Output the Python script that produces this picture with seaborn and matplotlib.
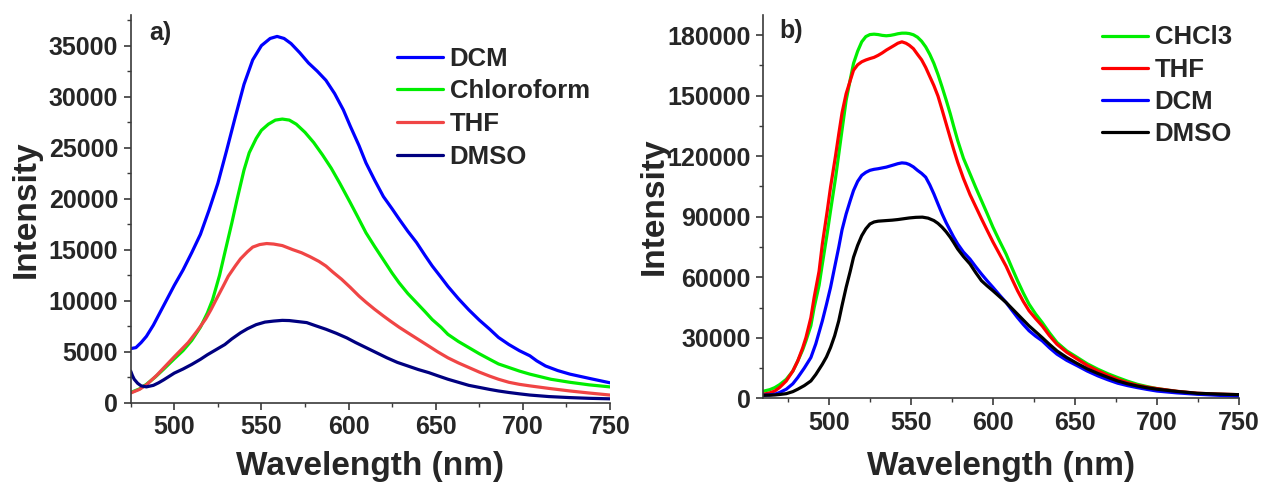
import matplotlib
matplotlib.use("Agg")
import numpy as np
import pandas as pd
import matplotlib.pyplot as plt
import seaborn as sns
from matplotlib.ticker import MultipleLocator
from matplotlib.lines import Line2D

# ---------------- Panel a) data ----------------
a_dcm_wl = [475, 478, 481, 484, 488, 492, 496, 500, 505, 510, 515, 520, 525, 530, 535, 540, 545, 550,
            555, 559, 563, 567, 572, 577, 582, 587, 592, 597, 601, 606, 610, 615, 620, 625, 629, 634,
            639, 644, 648, 653, 657, 663, 669, 675, 681, 686, 692, 698, 704, 708, 713, 720, 727, 739, 750]
a_dcm_i = [5300, 5400, 5900, 6500, 7600, 8900, 10200, 11500, 13000, 14700, 16500, 18900, 21500, 24700,
           28000, 31200, 33600, 35000, 35700, 35900, 35700, 35200, 34300, 33300, 32500, 31600, 30300,
           28700, 27100, 25200, 23500, 21800, 20200, 19000, 18000, 16800, 15700, 14400, 13400, 12300,
           11400, 10200, 9100, 8100, 7200, 6400, 5700, 5100, 4600, 4100, 3600, 3150, 2800, 2350, 1950]

a_chl_wl = [475, 480, 484, 489, 494, 500, 505, 510, 515, 519, 522, 526, 529, 533, 536, 540, 543, 547,
            550, 554, 558, 562, 566, 570, 575, 580, 585, 590, 595, 601, 605, 610, 615, 620, 625, 629,
            634, 639, 644, 648, 653, 657, 663, 669, 675, 681, 686, 692, 698, 704, 710, 716, 727, 738, 750]
a_chl_i = [1000, 1350, 1800, 2500, 3300, 4300, 5100, 6100, 7400, 8800, 10100, 12500, 14700, 17600,
           19900, 22800, 24500, 25900, 26700, 27300, 27700, 27800, 27700, 27300, 26500, 25500, 24300,
           23000, 21500, 19600, 18300, 16650, 15300, 14000, 12700, 11750, 10700, 9800, 8900, 8150,
           7400, 6700, 6000, 5400, 4800, 4250, 3800, 3450, 3100, 2800, 2550, 2300, 2000, 1750, 1550]

a_thf_wl = [475, 480, 484, 490, 495, 500, 504, 508, 513, 518, 521, 524, 528, 531, 535, 538, 542, 545,
            549, 553, 557, 562, 568, 573, 578, 583, 587, 591, 596, 601, 606, 610, 615, 620, 624, 629,
            634, 640, 646, 651, 657, 663, 669, 675, 681, 686, 692, 698, 704, 715, 727, 738, 750]
a_thf_i = [950, 1300, 1750, 2700, 3600, 4500, 5200, 5900, 7000, 8200, 9100, 10100, 11400, 12400, 13400,
           14100, 14800, 15250, 15500, 15600, 15550, 15400, 15000, 14700, 14300, 13850, 13400, 12800,
           12100, 11300, 10450, 9850, 9150, 8500, 8000, 7400, 6850, 6200, 5550, 5000, 4400, 3900, 3450,
           3000, 2600, 2300, 2000, 1800, 1650, 1400, 1150, 950, 750]

a_dmso_wl = [475, 476, 477, 479, 481, 484, 488, 491, 494, 500, 505, 510, 515, 519, 524, 529, 533, 538,
             542, 547, 552, 557, 562, 566, 571, 576, 581, 587, 593, 599, 604, 610, 616, 622, 628, 634,
             640, 646, 651, 657, 663, 669, 675, 681, 686, 692, 698, 704, 715, 727, 738, 750]
a_dmso_i = [3100, 2650, 2300, 1900, 1650, 1550, 1700, 1950, 2250, 2900, 3300, 3750, 4250, 4700, 5200,
            5700, 6250, 6850, 7250, 7650, 7900, 8000, 8070, 8050, 7950, 7850, 7550, 7200, 6800, 6350,
            5900, 5400, 4900, 4400, 3950, 3600, 3250, 2950, 2650, 2300, 2000, 1700, 1500, 1300, 1150,
            1000, 870, 750, 600, 500, 430, 380]

a_labels = ["DCM", "Chloroform", "THF", "DMSO"]
a_colors = ["#0000FF", "#00EE00", "#F04545", "#000080"]

# ---------------- Panel b) data ----------------
b_chcl3_wl = [460, 464, 467, 470, 474, 478, 481, 484, 486, 489, 491, 494, 496, 499, 501, 504, 506, 508,
              510.5, 513, 515, 517.5, 520, 522.5, 525, 527.5, 530, 532.5, 535, 537.5, 540, 542, 544.5,
              547, 549, 551.5, 554, 556.5, 559, 561.5, 564, 566.5, 569, 571.5, 574, 576, 578.5, 582, 586,
              589.5, 593, 596.5, 600, 604, 608, 611.5, 615, 618.5, 622, 626, 630, 634.5, 639, 645, 651.5,
              657.5, 664, 670, 676, 682, 688, 694, 700, 712, 724.5, 737, 750]
b_chcl3_i = [3500, 4300, 5300, 6800, 9400, 13500, 18500, 24000, 28500, 36000, 45000, 56000, 66600,
             82000, 93000, 109000, 121000, 133000, 147700, 158000, 166000, 172000, 176700, 179300, 180300,
             180500, 180300, 179900, 179700, 179900, 180300, 180700, 181000, 181000, 180800, 180200,
             179000, 177000, 174200, 170500, 166000, 160500, 154300, 147800, 141000, 135000, 127800,
             119000, 111300, 104500, 98000, 91500, 84800, 78000, 71500, 64800, 58300, 52200, 46700, 41800,
             37600, 32400, 27700, 23500, 20200, 17100, 14400, 12200, 10300, 8500, 6950, 5800, 4800, 3400,
             2300, 1950, 1650]

b_thf_wl = [460, 464, 467, 470, 474, 478, 481, 484, 486, 489, 491, 494, 496, 499, 501, 504, 506, 508,
            510.5, 513, 515, 517.5, 520, 522.5, 525, 527.5, 530, 532.5, 535, 537.5, 540, 542, 544.5, 547,
            549, 551.5, 554, 556.5, 559, 561.5, 564, 566.5, 569, 571.5, 574, 576, 578.5, 582, 586, 589.5,
            593, 596.5, 600, 604, 608, 611.5, 615, 618.5, 622, 626, 630, 634.5, 639, 645, 651.5, 657.5,
            664, 670, 676, 682, 688, 694, 700, 712, 724.5, 737, 750]
b_thf_i = [2000, 2700, 3600, 5400, 8600, 13500, 18500, 25000, 30100, 40000, 50000, 63000, 76500, 93000,
           104700, 120000, 131000, 141500, 151000, 157500, 162600, 165300, 166800, 167700, 168400, 169000,
           170000, 171200, 172600, 173800, 175000, 176000, 176700, 176000, 175000, 173300, 170500,
           167800, 164000, 159500, 155000, 149800, 143000, 136000, 129000, 123500, 117000, 109000,
           101000, 95000, 89000, 83200, 77500, 71500, 65500, 59300, 53300, 48000, 43400, 39500, 35900,
           31000, 26800, 22800, 19400, 16300, 13600, 11400, 9400, 7800, 6450, 5500, 4800, 3500, 2500,
           2100, 1800]

b_dcm_wl = [460, 464, 467, 470, 474, 478, 481, 485, 489, 492, 496, 498.5, 501, 503.5, 506, 508, 510.5,
            513, 515, 517.5, 520, 522.5, 525, 527.5, 530, 532.5, 535, 537.5, 540, 542, 544.5, 547, 549,
            551.5, 554, 556.5, 559, 561.5, 564, 566.5, 569, 571.5, 574, 576, 578.5, 582, 586, 589.5, 593,
            596.5, 600, 604, 608, 611.5, 615, 618.5, 622, 626, 630, 634.5, 639, 645, 651.5, 657.5, 664,
            670, 676, 682, 688, 694, 700, 712, 724.5, 737, 750]
b_dcm_i = [1500, 1700, 2000, 2900, 4500, 7200, 10300, 15000, 20200, 27000, 38400, 46500, 55000, 65000,
           74900, 83500, 91400, 98000, 103000, 107500, 110500, 112000, 113000, 113500, 113800, 114200,
           114600, 115200, 115800, 116300, 116700, 116500, 115900, 114700, 113000, 111500, 109600,
           105800, 101300, 96300, 91400, 87000, 83100, 80000, 76500, 72500, 69000, 65200, 61600, 58200,
           55000, 51200, 47500, 43700, 40000, 36600, 33500, 30800, 28500, 25000, 21900, 18800, 16100,
           13500, 11100, 9200, 7500, 6300, 5300, 4400, 3600, 2700, 2000, 1500, 1000]

b_dmso_wl = [460, 464, 467, 470, 474, 478, 481, 485, 489, 492, 496, 498.5, 501, 503.5, 506, 508, 510.5,
             513, 515, 517.5, 520, 522.5, 525, 527.5, 530, 535, 538.5, 542, 545.5, 549, 553, 557, 560.5,
             564, 566.5, 569, 571.5, 574, 576, 578.5, 582, 586, 589.5, 593, 596.5, 600, 604, 608, 611.5,
             615, 618.5, 622, 626, 630, 634.5, 639, 645, 651.5, 657.5, 664, 670, 676, 682, 688, 694, 700,
             712, 724.5, 737, 750]
b_dmso_i = [1500, 1550, 1650, 1900, 2300, 3300, 4500, 6300, 8600, 11800, 16900, 20500, 25200, 31000,
            38400, 46000, 55000, 63000, 69900, 75800, 80600, 84000, 86400, 87400, 87800, 88100, 88300,
            88600, 89000, 89400, 89700, 89800, 89300, 88100, 86700, 84800, 82500, 79800, 77300, 74000,
            70300, 66600, 62300, 58300, 55700, 53300, 50400, 47500, 44600, 41700, 38800, 35900, 33000,
            30100, 26700, 23500, 20200, 17200, 14600, 12300, 10400, 8600, 7200, 6100, 5200, 4500, 3400,
            2500, 2100, 1800]

b_labels = ["CHCl3", "THF", "DCM", "DMSO"]
b_colors = ["#00EE00", "#FF0000", "#0000FF", "#000000"]

x_ticks_a = [500, 550, 600, 650, 700, 750]
y_ticks_a = [0, 5000, 10000, 15000, 20000, 25000, 30000, 35000]
x_ticks_b = [500, 550, 600, 650, 700, 750]
y_ticks_b = [0, 30000, 60000, 90000, 120000, 150000, 180000]


def long_df(wls, vals, names):
    frames = []
    for w, v, n in zip(wls, vals, names):
        frames.append(pd.DataFrame({"Wavelength": w, "Intensity": v, "Solvent": n}))
    return pd.concat(frames, ignore_index=True)


df_a = long_df([a_dcm_wl, a_chl_wl, a_thf_wl, a_dmso_wl],
               [a_dcm_i, a_chl_i, a_thf_i, a_dmso_i], a_labels)
df_b = long_df([b_chcl3_wl, b_thf_wl, b_dcm_wl, b_dmso_wl],
               [b_chcl3_i, b_thf_i, b_dcm_i, b_dmso_i], b_labels)

sns.set_theme(style="ticks")
plt.rcParams["font.family"] = ["Liberation Sans", "DejaVu Sans"]
plt.rcParams["font.weight"] = "bold"
plt.rcParams["axes.labelweight"] = "bold"

W, H = 1264, 491
fig = plt.figure(figsize=(W / 100, H / 100), dpi=100)
ax1 = fig.add_axes([130.7 / W, (H - 402.7) / H, (610 - 130.7) / W, (402.7 - 15) / H])
ax2 = fig.add_axes([763.3 / W, (H - 398.3) / H, (1239 - 763.3) / W, (398.3 - 15) / H])

LW = 2.3
spine_c = "#3a3a3a"

sns.lineplot(data=df_a, x="Wavelength", y="Intensity", hue="Solvent", hue_order=a_labels,
             palette=a_colors, estimator=None, linewidth=LW, ax=ax1, legend=False)
sns.lineplot(data=df_b, x="Wavelength", y="Intensity", hue="Solvent", hue_order=b_labels,
             palette=b_colors, estimator=None, linewidth=LW, ax=ax2, legend=False)
for ax in (ax1, ax2):
    for ln in ax.get_lines():
        ln.set_solid_joinstyle("round")

ax1.set_xlim(475, 750)
ax1.set_ylim(0, 38000)
ax2.set_xlim(460, 750)
ax2.set_ylim(0, 190000)

ax1.set_xticks(x_ticks_a)
ax1.set_yticks(y_ticks_a)
ax2.set_xticks(x_ticks_b)
ax2.set_yticks(y_ticks_b)
ax1.xaxis.set_minor_locator(MultipleLocator(25))
ax1.yaxis.set_minor_locator(MultipleLocator(2500))
ax2.xaxis.set_minor_locator(MultipleLocator(25))
ax2.yaxis.set_minor_locator(MultipleLocator(15000))

for ax in (ax1, ax2):
    for s in ("top", "right"):
        ax.spines[s].set_visible(False)
    for s in ("left", "bottom"):
        ax.spines[s].set_color(spine_c)
        ax.spines[s].set_linewidth(1.2)
    ax.tick_params(which="major", direction="out", length=5, width=1.2, color=spine_c,
                   labelsize=18, pad=4)
    ax.tick_params(which="minor", direction="out", length=3, width=1.0, color=spine_c)
    for lab in ax.get_xticklabels() + ax.get_yticklabels():
        lab.set_fontweight("bold")
    ax.set_xlabel("Wavelength (nm)", fontsize=24, fontweight="bold", va="center")
    ax.set_ylabel("Intensity", fontsize=24, fontweight="bold", va="center")

ax1.xaxis.set_label_coords(0.5, (402.7 - 466) / 387.7)
ax1.yaxis.set_label_coords((26.5 - 130.7) / 479.3, 0.5)
ax2.xaxis.set_label_coords(0.5, (398.3 - 466) / 383.3)
ax2.yaxis.set_label_coords((654 - 763.3) / 475.7, 0.5)

fig.text(149.3 / W, 1 - 33 / H, "a)", fontsize=18, fontweight="bold", ha="left", va="center")
fig.text(779.3 / W, 1 - 31 / H, "b)", fontsize=18, fontweight="bold", ha="left", va="center")

leg_kw = dict(frameon=False, borderpad=0, borderaxespad=0, handlelength=1.8, handletextpad=0.26,
              prop=dict(weight="bold", size=18.5), loc="upper left")
h_a = [Line2D([], [], color=c, lw=LW) for c in a_colors]
ax1.legend(h_a, a_labels, bbox_to_anchor=(396.7 / W, 1 - 46.7 / H), bbox_transform=fig.transFigure,
           labelspacing=0.34, **leg_kw)
h_b = [Line2D([], [], color=c, lw=LW) for c in b_colors]
ax2.legend(h_b, b_labels, bbox_to_anchor=(1101.7 / W, 1 - 25.5 / H), bbox_transform=fig.transFigure,
           labelspacing=0.32, **leg_kw)

fig.savefig("out.png", dpi=100)
